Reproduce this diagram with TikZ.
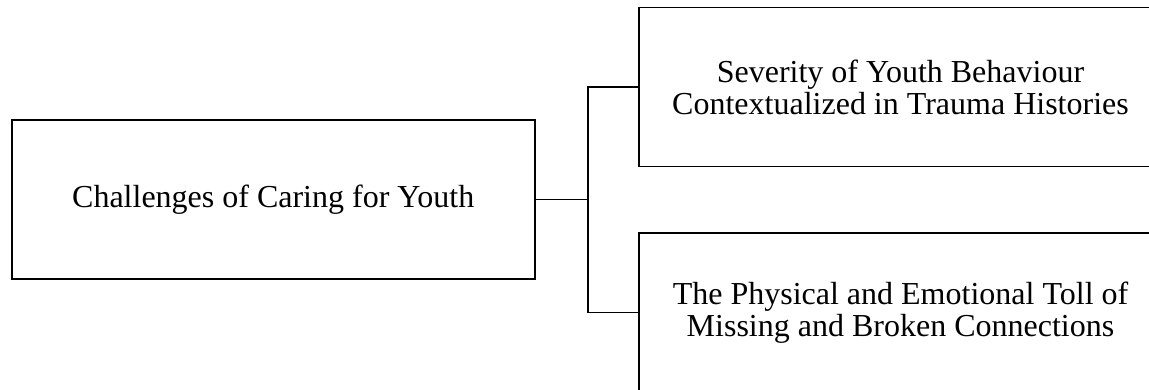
\documentclass[tikz,border=0pt]{standalone}
\usepackage{fontspec}
\setmainfont{Liberation Serif}

\begin{document}
\begin{tikzpicture}[x=1pt,y=-1pt,line width=1.8pt,every node/.style={font=\fontsize{32}{32}\selectfont},
  themebox/.style={draw,align=center,minimum width=523pt,minimum height=159pt,inner sep=0pt}]
\useasboundingbox (0,0) rectangle (1149,390); \clip (0,0) rectangle (1149,390);
\node[themebox] (care) at (273.2,199.5) {Challenges of Caring for Youth};
\node[themebox] (severity) at (900.5,87) {Severity of Youth Behaviour\\Contextualized in Trauma Histories};
\node[themebox] (toll) at (900.5,312.5) {The Physical and Emotional Toll of\\Missing and Broken Connections};
\draw (care.east) -- ++(52,0) coordinate (fork);
\draw (severity.west) -| (fork) |- (toll.west);
\end{tikzpicture}
\end{document}
